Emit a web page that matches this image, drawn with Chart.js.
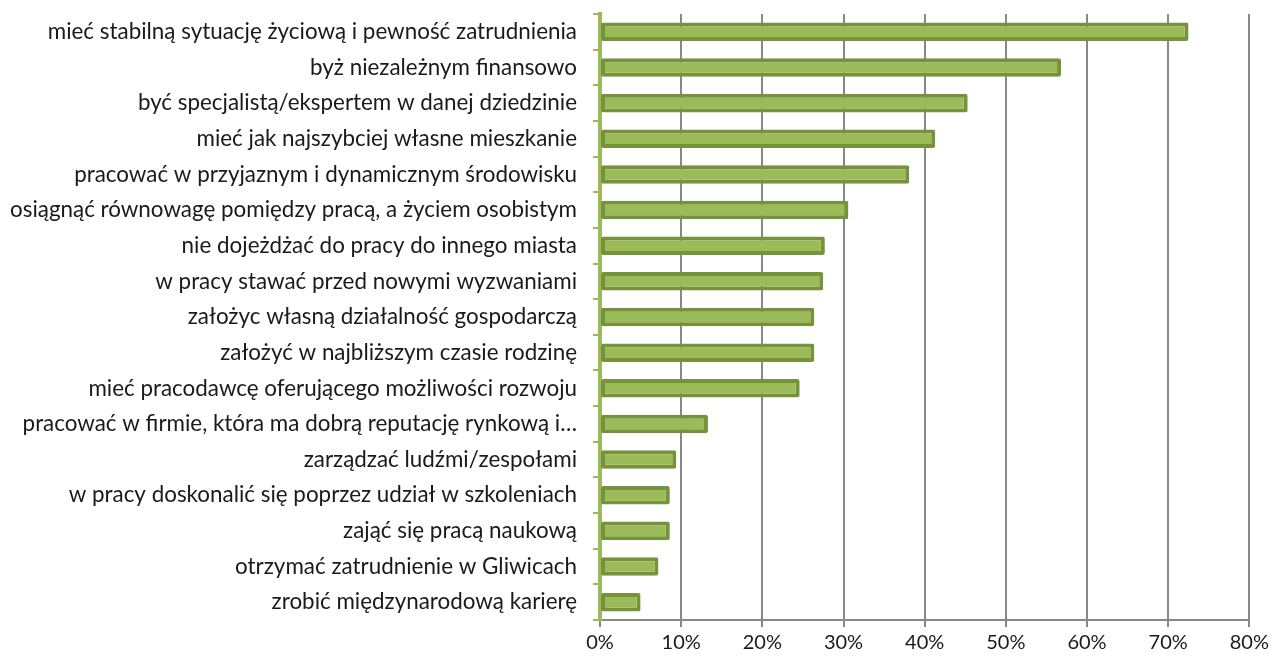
<!DOCTYPE html>
<html>
<head>
<meta charset="utf-8">
<script src="https://cdn.jsdelivr.net/npm/chart.js@4"></script>
<style>
  html, body { margin: 0; padding: 0; background: #fff; }
  #wrap { width: 1273px; height: 666px; }
</style>
</head>
<body>
<div id="wrap"><canvas id="chart" width="1273" height="666"></canvas></div>
<script>
const categories = [
    'mieć stabilną sytuację życiową i pewność zatrudnienia',
    'byż niezależnym finansowo',
    'być specjalistą/ekspertem w danej dziedzinie',
    'mieć jak najszybciej własne mieszkanie',
    'pracować w przyjaznym i dynamicznym środowisku',
    'osiągnąć równowagę pomiędzy pracą, a życiem osobistym',
    'nie dojeżdżać do pracy do innego miasta',
    'w pracy stawać przed nowymi wyzwaniami',
    'założyc własną działalność gospodarczą',
    'założyć w najbliższym czasie rodzinę',
    'mieć pracodawcę oferującego możliwości rozwoju',
    'pracować w firmie, która ma dobrą reputację rynkową i…',
    'zarządzać ludźmi/zespołami',
    'w pracy doskonalić się poprzez udział w szkoleniach',
    'zająć się pracą naukową',
    'otrzymać zatrudnienie w Gliwicach',
    'zrobić międzynarodową karierę'
];
const values = [72.5, 56.8, 45.3, 41.3, 38.1, 30.6, 27.7, 27.5, 26.4, 26.4, 24.6, 13.3, 9.4, 8.6, 8.6, 7.2, 5.0];
const xMax = 80;
const xStep = 10;

const fontFamily = 'Lato, "Open Sans", sans-serif';

function initChart() {
    const ctx = document.getElementById('chart').getContext('2d');
    new Chart(ctx, {
        type: 'bar',
        data: {
            labels: categories,
            datasets: [{
                data: values,
                backgroundColor: '#9BBB59',
                borderColor: '#76923C',
                borderWidth: 4,
                borderSkipped: false,
                borderRadius: 2,
                barPercentage: 0.52,
                categoryPercentage: 1.0
            }]
        },
        options: {
            indexAxis: 'y',
            animation: false,
            responsive: false,
            layout: { padding: { top: 14, right: 22, bottom: 0, left: 0 } },
            plugins: { legend: { display: false }, tooltip: { enabled: false } },
            scales: {
                x: {
                    min: 0,
                    max: xMax,
                    ticks: {
                        stepSize: xStep,
                        color: '#1a1a1a',
                        font: { family: fontFamily, size: 20 },
                        padding: 4,
                        callback: v => v + '%'
                    },
                    grid: { color: '#888888', lineWidth: 2, tickLength: 7 },
                    border: { color: '#888888', width: 2 },
                    afterFit: s => { s.height = 46; }
                },
                y: {
                    ticks: {
                        color: '#1a1a1a',
                        font: { family: fontFamily, size: 22.4 },
                        padding: 16,
                        autoSkip: false
                    },
                    grid: { offset: true, drawOnChartArea: false, color: '#9BBB59', lineWidth: 2, tickLength: 7 },
                    border: { color: '#9BBB59', width: 4 },
                    afterFit: s => {
                        s.width = 600;
                        // labels sit between ticks, no extra room needed above/below
                        s.paddingTop = 0;
                        s.paddingBottom = 0;
                    }
                }
            }
        }
    });
}

initChart();
</script>
</body>
</html>
